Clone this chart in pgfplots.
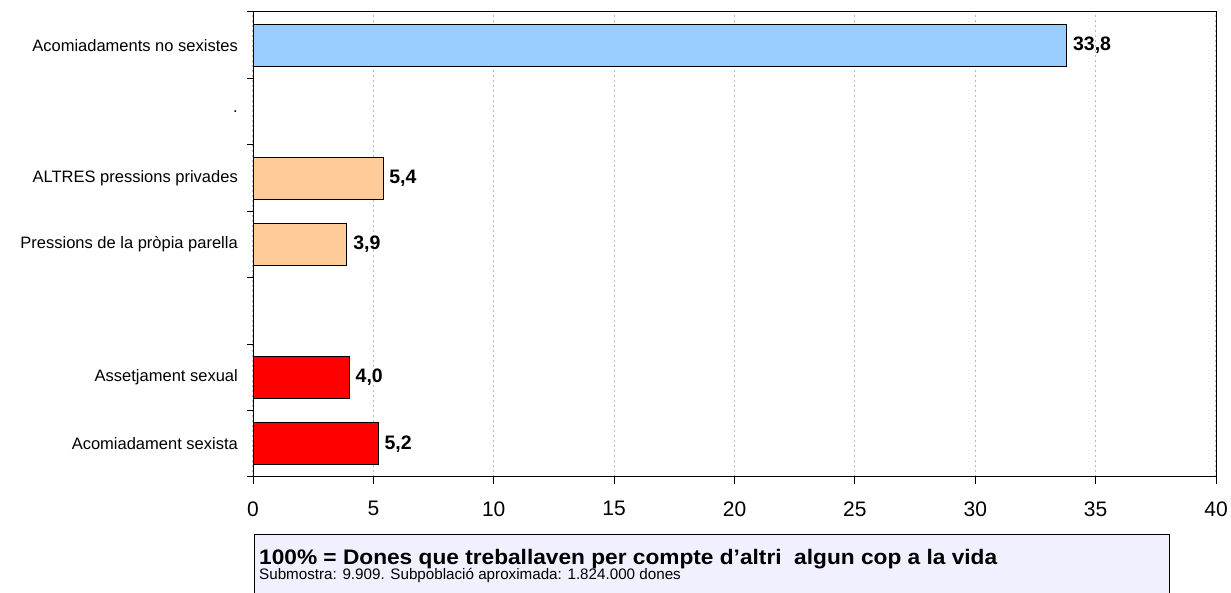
\documentclass[border=0pt]{standalone}
\usepackage{pgfplots}
\pgfplotsset{compat=1.18}
\usepackage{fontspec}
\setmainfont{Liberation Sans}
\definecolor{barblue}{HTML}{99CCFF}
\definecolor{barpeach}{HTML}{FFCC99}
\definecolor{barred}{HTML}{FF0000}
\definecolor{boxfill}{HTML}{F0F0FF}
\definecolor{gridgray}{HTML}{B8B8B8}
\begin{document}
\begin{tikzpicture}[x=1pt,y=1pt]
\path[use as bounding box] (0,0) rectangle (1231,593);
\begin{axis}[
  at={(253pt,116pt)}, anchor=south west,
  scale only axis, width=963pt, height=465pt,
  xmin=0, xmax=40, ymin=0.5, ymax=7.5,
  xbar, bar width=42pt, bar shift=0pt,
  axis line style={black, line width=1pt},
  xtick={0,5,...,40}, xtick pos=bottom, tick align=outside,
  major x tick style={black, line width=1pt}, major tick length=7pt,
  ytick={1,...,7},
  yticklabels={Acomiadament sexista, Assetjament sexual, {}, Pressions de la pròpia parella, ALTRES pressions privades, {.}, Acomiadaments no sexistes},
  ytick pos=left,
  major y tick style={draw=none},
  minor ytick={0.5,1.5,...,7.5},
  minor y tick style={black, line width=1pt}, minor tick length=6pt,
  xmajorgrids, major x grid style={gridgray, line width=1.2pt, dash pattern=on 2pt off 3pt},
  /pgf/number format/assume math mode=true,
  xticklabel style={font=\fontsize{21}{25}\selectfont, yshift=-14pt},
  yticklabel style={font=\fontsize{16.5}{19}\selectfont, inner sep=0pt, xshift=-8pt},
  nodes near coords={\pgfmathprintnumber[fixed, fixed zerofill, precision=1, use comma, assume math mode=true]{\pgfplotspointmeta}},
  every node near coord/.append style={font=\fontsize{19.5}{23}\bfseries, anchor=west, inner sep=0pt, xshift=6pt, black},
]
\addplot[fill=barred, draw=black, line width=0.8pt] coordinates {(5.2,1) (4.0,2)};
\addplot[fill=barpeach, draw=black, line width=0.8pt] coordinates {(3.9,4) (5.4,5)};
\addplot[fill=barblue, draw=black, line width=0.8pt] coordinates {(33.8,7)};
\end{axis}
\draw[fill=boxfill, draw=black, line width=1pt] (254,-3) rectangle (1169,58);
\node[anchor=base west, inner sep=0pt, xscale=1.08, font=\fontsize{21}{25}\bfseries] at (259,28) {100\% = Dones que treballaven per compte d’altri\ \ algun cop a la vida};
\node[anchor=base west, inner sep=0pt, font=\fontsize{15.2}{18}\selectfont] at (259,13) {Submostra: 9.909. Subpoblació aproximada: 1.824.000 dones};
\end{tikzpicture}
\end{document}
